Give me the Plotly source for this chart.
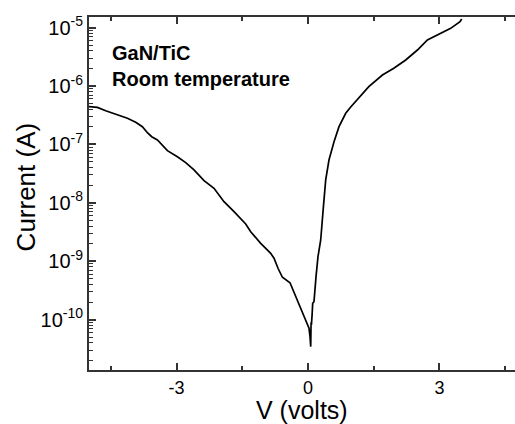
import plotly.graph_objects as go

# I-V data (V in volts, I in amperes)
voltage = [-5.0, -4.808, -4.619, -4.390, -4.123, -3.934, -3.781, -3.667, -3.568, -3.438,
           -3.324, -3.210, -2.982, -2.792, -2.603, -2.374, -2.146, -1.918, -1.689, -1.422,
           -1.308, -1.080, -0.852, -0.776, -0.685, -0.584, -0.411, -0.356, -0.242, -0.091,
           0.023, 0.046, 0.062, 0.070, 0.078, 0.095, 0.107, 0.137, 0.150, 0.183, 0.228,
           0.290, 0.352, 0.404, 0.479, 0.594, 0.708, 0.861, 0.975, 1.160, 1.388, 1.699,
           1.959, 2.231, 2.498, 2.726, 3.030, 3.258, 3.470, 3.509]
log_current = [-6.355, -6.366, -6.424, -6.480, -6.554, -6.622, -6.697, -6.800, -6.869, -6.925,
               -7.011, -7.108, -7.211, -7.313, -7.438, -7.621, -7.752, -7.981, -8.152, -8.362,
               -8.494, -8.693, -8.864, -8.949, -9.120, -9.274, -9.367, -9.463, -9.663, -9.949,
               -10.147, -10.291, -10.462, -10.05, -10.091, -9.90, -9.719, -9.692, -9.55, -9.264, -8.922,
               -8.636, -8.066, -7.609, -7.267, -6.954, -6.697, -6.468, -6.360, -6.211, -6.013, -5.813,
               -5.698, -5.556, -5.385, -5.214, -5.099, -5.014, -4.901, -4.855]
current = [10 ** v for v in log_current]

x_tickvals = [-3, 0, 3]
x_ticktext = ["-3", "0", "3"]
y_exponents = [-10, -9, -8, -7, -6, -5]
y_tickvals = [10 ** e for e in y_exponents]
y_ticktext = ["10<sup>%d</sup>" % e for e in y_exponents]
y_minor = [k * 10 ** e for e in range(-11, -4) for k in range(2, 10)]

title_lines = ["GaN/TiC", "Room temperature"]
x_title = "V (volts)"
y_title = "Current (A)"

y_range = [-10.861, -4.82]

fig = go.Figure()
fig.add_trace(go.Scatter(x=voltage, y=current, mode="lines",
                         line=dict(color="black", width=1.7), showlegend=False,
                         hoverinfo="skip"))
# invisible trace to carry the minor-tick overlay axis
fig.add_trace(go.Scatter(x=[voltage[0]], y=[current[0]], yaxis="y2", mode="markers",
                         marker=dict(opacity=0), showlegend=False, hoverinfo="skip"))

axis_color = "#333333"
fig.update_layout(
    width=515, height=424,
    margin=dict(l=89, r=0, t=17, b=54),
    paper_bgcolor="white", plot_bgcolor="white",
    font=dict(family="Liberation Sans, Arial, sans-serif", color="black"),
    xaxis=dict(range=[-5, 4.726], tickmode="array", tickvals=x_tickvals, ticktext=x_ticktext,
               ticks="inside", ticklen=7, tickwidth=1.5, tickcolor=axis_color,
               showline=True, linecolor=axis_color, linewidth=2, mirror="ticks",
               showgrid=False, zeroline=False,
               tickfont=dict(size=18),
               minor=dict(dtick=1.5, tick0=0, ticks="inside", ticklen=4, tickwidth=1.5,
                          tickcolor=axis_color, showgrid=False)),
    yaxis=dict(type="log", range=y_range, tickmode="array",
               tickvals=y_tickvals, ticktext=y_ticktext,
               ticks="inside", ticklen=7, tickwidth=1.5, tickcolor=axis_color,
               showline=True, linecolor=axis_color, linewidth=2,
               showgrid=False, zeroline=False,
               tickfont=dict(size=20)),
    yaxis2=dict(type="log", range=y_range, overlaying="y", side="left", anchor="x",
                tickmode="array", tickvals=y_minor, showticklabels=False,
                ticks="inside", ticklen=4, tickwidth=1.3, tickcolor=axis_color,
                showline=False, showgrid=False, zeroline=False),
)

fig.add_annotation(xref="paper", yref="paper", x=0.049, y=0.935,
                   xanchor="left", yanchor="top", align="left", showarrow=False,
                   text="<br>".join("<b>%s</b>" % t for t in title_lines),
                   font=dict(size=20, color="black"))
fig.add_annotation(xref="paper", yref="paper", x=0.5, y=-0.114,
                   xanchor="center", yanchor="middle", showarrow=False,
                   text=x_title, font=dict(size=25, color="black"))
fig.add_annotation(xref="paper", yref="paper", x=-0.148, y=0.52,
                   xanchor="center", yanchor="middle", showarrow=False, textangle=-90,
                   text=y_title, font=dict(size=26, color="black"))

fig.write_html("out.html")
